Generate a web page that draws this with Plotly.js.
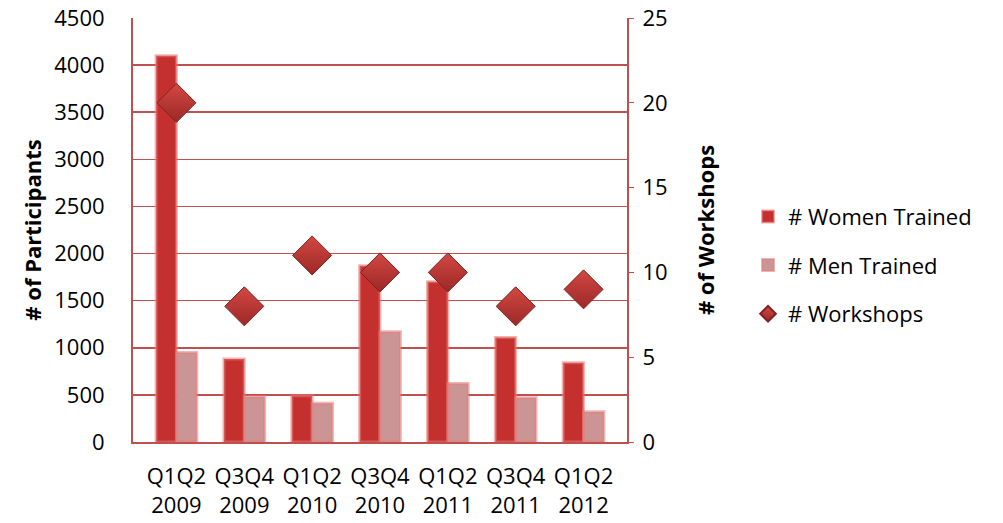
<!DOCTYPE html>
<html>
<head>
<meta charset="utf-8">
<script src="https://cdn.plot.ly/plotly-3.0.1.min.js"></script>
<style>html,body{margin:0;padding:0;background:#fff;}#chart{width:1003px;height:523px;}</style>
</head>
<body>
<div id="chart"></div>
<script>
const categories = ["Q1Q2<br>2009","Q3Q4<br>2009","Q1Q2<br>2010","Q3Q4<br>2010","Q1Q2<br>2011","Q3Q4<br>2011","Q1Q2<br>2012"];
const womenTrained = [4100, 880, 490, 1870, 1700, 1110, 840];
const menTrained = [950, 480, 410, 1170, 620, 470, 320];
const workshops = [20, 8, 11, 10, 10, 8, 9];

const font = "'Open Sans', sans-serif";
const red = "#C0504D";

const data = [
  {type:"bar", name:"# Women Trained", x:categories, y:womenTrained, legendgroup:"a",
   marker:{color:"#C3302E", line:{color:"rgba(231,120,118,0.55)", width:3}}},
  {type:"bar", name:"# Men Trained", x:categories, y:menTrained, legendgroup:"b",
   marker:{color:"#CC9595", line:{color:"rgba(231,120,118,0.55)", width:3}}},
  {type:"scatter", mode:"markers", name:"# Workshops", x:categories, y:workshops, yaxis:"y2", legendgroup:"c",
   marker:{symbol:"diamond", size:30, color:"#D24844", gradient:{type:"vertical", color:"#9C2826"},
           line:{color:"#7E2220", width:1}}}
];

const layout = {
  width:1003, height:523,
  margin:{l:133, r:376, t:18, b:81},
  paper_bgcolor:"#fff", plot_bgcolor:"#fff",
  font:{family:font, size:22, color:"#000"},
  barmode:"group", bargap:0.4, bargroupgap:0,
  showlegend:true,
  legend:{x:1.245, y:0.417, xanchor:"left", yanchor:"middle", font:{size:22, family:font},
          tracegroupgap:17, itemsizing:"constant", traceorder:"grouped", itemwidth:30},
  xaxis:{type:"category", showline:true, linecolor:red, linewidth:2, ticks:"", ticklabelstandoff:14,
         tickfont:{size:22}, showgrid:false, zeroline:false},
  yaxis:{range:[0,4500], dtick:500, showline:true, linecolor:red, linewidth:2,
         gridcolor:red, gridwidth:1.6, ticks:"", ticklabelstandoff:22,
         tickfont:{size:22}, zeroline:false,
         title:{text:"<b># of Participants</b>", font:{size:22}, standoff:7}},
  yaxis2:{range:[0,25], dtick:5, overlaying:"y", side:"right", showline:true, linecolor:red, linewidth:2,
          ticks:"outside", ticklen:5, tickcolor:red, ticklabelstandoff:4, showgrid:false, zeroline:false,
          tickfont:{size:22},
          title:{text:"<b># of Workshops</b>", font:{size:22}, standoff:32}}
};

Plotly.newPlot("chart", data, layout, {displayModeBar:false, staticPlot:true});
</script>
</body>
</html>
